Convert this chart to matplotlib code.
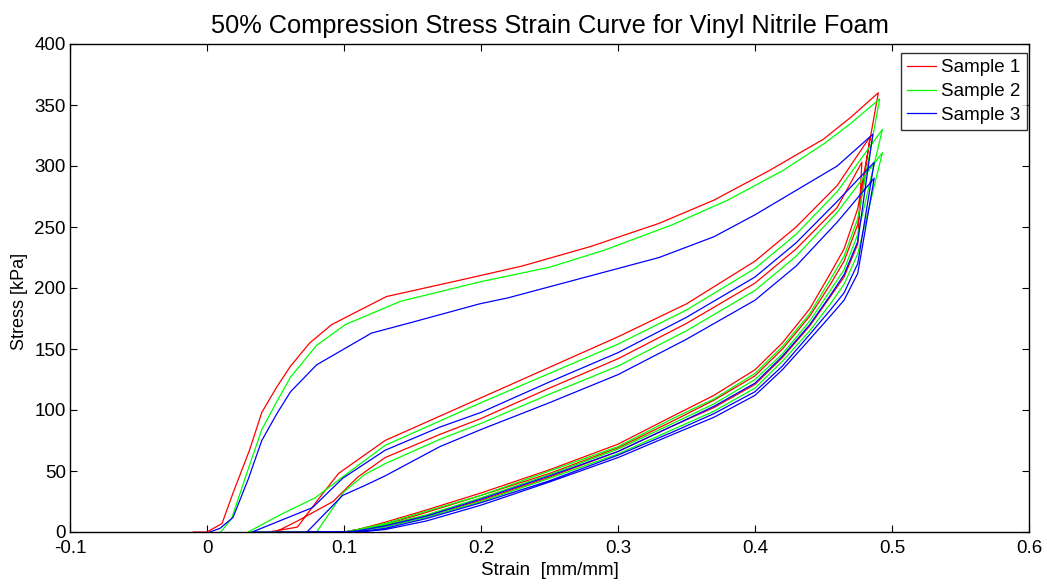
import matplotlib
matplotlib.use("Agg")
import matplotlib.pyplot as plt

plt.rcParams['font.family'] = ['Liberation Sans', 'DejaVu Sans']

# ---------------- data ----------------
labels = ["Sample 1", "Sample 2", "Sample 3"]
colors = ["#ff0000", "#00ff00", "#0000ff"]

# first loading (upper curves)
r_load1_x = [-0.01, 0, 0.011, 0.019, 0.031, 0.040, 0.051, 0.061, 0.075, 0.091, 0.131, 0.187, 0.23, 0.28, 0.33, 0.37, 0.41, 0.45, 0.47, 0.49]
r_load1_y = [0, 0, 7, 32, 67, 98, 119, 136, 155, 170, 193, 207, 218, 234, 253, 272, 296, 322, 340, 360]
g_load1_x = [0.01, 0.018, 0.029, 0.040, 0.051, 0.061, 0.080, 0.101, 0.141, 0.199, 0.25, 0.29, 0.34, 0.38, 0.42, 0.45, 0.47, 0.491]
g_load1_y = [0, 11, 48, 84, 107, 127, 153, 170, 189, 205, 217, 231, 252, 272, 296, 318, 335, 355]
b_load1_x = [0.002, 0.0095, 0.019, 0.030, 0.040, 0.051, 0.061, 0.080, 0.12, 0.15, 0.199, 0.22, 0.28, 0.33, 0.37, 0.40, 0.43, 0.46, 0.486]
b_load1_y = [0, 3, 12, 43, 75, 97, 115, 137, 163, 172, 187, 192, 210, 225, 242, 260, 280, 300, 326]

# reloading (middle curves), shared strain grid after individual starts
reload_grid = [0.13, 0.17, 0.20, 0.25, 0.30, 0.35, 0.40, 0.43, 0.46]
r_load2_start_x = [0.045, 0.066, 0.080, 0.096]
r_load2_start_y = [0, 4, 25, 48]
r_load2_y = [75, 95, 110, 135, 160, 187, 222, 250, 284]
r_load2_peak = (0.484, 324)
g_load2_start_x = [0.030, 0.055, 0.079, 0.100]
g_load2_start_y = [0, 15, 28, 46]
g_load2_y = [71, 91, 106, 130, 154, 182, 216, 244, 279]
g_load2_peak = (0.493, 330)
b_load2_start_x = [0.033, 0.055, 0.077, 0.099]
b_load2_start_y = [0, 10, 20, 44]
b_load2_y = [67, 86, 98, 123, 147, 176, 209, 237, 271]
b_load2_peak = (0.487, 303)

r_load3_start_x = [0.050, 0.066, 0.092, 0.110]
r_load3_start_y = [0, 9, 25, 45]
r_load3_y = [61, 80, 93, 118, 142, 171, 204, 232, 266]
r_load3_peak = (0.478, 303)
g_load3_start_x = [0.080, 0.100, 0.115]
g_load3_start_y = [0, 33, 47]
g_load3_y = [56, 76, 89, 113, 136, 165, 198, 226, 262]
g_load3_peak = (0.493, 311)
b_load3_start_x = [0.073, 0.099, 0.115]
b_load3_start_y = [0, 30, 38]
b_load3_y = [46, 70, 84, 106, 129, 158, 190, 218, 254]
b_load3_peak = (0.487, 290)

# unloading (bottom curves), shared strain grid
unload_grid = [0.475, 0.465, 0.455, 0.44, 0.42, 0.40, 0.37, 0.34, 0.30, 0.25, 0.20, 0.16, 0.13, 0.11, 0.10]
r_unload1_y = [265, 232, 212, 183, 155, 133, 112, 95, 72, 51, 32, 18, 8, 2, 0]
g_unload1_y = [257, 226, 207, 179, 152, 130, 109, 93, 70, 50, 30, 17, 7, 2, 0]
r_unload2_y = [252, 222, 203, 177, 150, 128, 108, 91, 69, 48, 30, 16, 6, 2, 0]
g_unload2_y = [244, 215, 198, 173, 146, 125, 105, 89, 68, 47, 28, 14, 6, 1, 0]
b_unload1_y = [238, 211, 194, 170, 144, 122, 103, 87, 66, 46, 27, 13, 5, 1, 0]
r_unload3_y = [236, 209, 193, 169, 143, 121, 102, 87, 66, 45, 26, 13, 5, 1, 0]
g_unload3_y = [228, 203, 187, 165, 140, 118, 99, 84, 64, 44, 25, 12, 4, 1, 0]
b_unload2_y = [220, 196, 182, 162, 136, 115, 97, 82, 63, 42, 24, 11, 3, 0, 0]
b_unload3_y = [212, 190, 177, 158, 133, 112, 94, 80, 61, 41, 22, 9, 2, 0, 0]

x_ticks = [-0.1, 0, 0.1, 0.2, 0.3, 0.4, 0.5, 0.6]
y_ticks = [0, 50, 100, 150, 200, 250, 300, 350, 400]


def build_path(load1_x, load1_y, un1, l2sx, l2sy, l2y, l2pk, un2, l3sx, l3sy, l3y, l3pk, un3):
    xs, ys = list(load1_x), list(load1_y)
    xs += unload_grid; ys += un1
    xs += l2sx + reload_grid + [l2pk[0]]; ys += l2sy + l2y + [l2pk[1]]
    xs += unload_grid; ys += un2
    xs += l3sx + reload_grid + [l3pk[0]]; ys += l3sy + l3y + [l3pk[1]]
    xs += unload_grid; ys += un3
    return xs, ys


paths = [
    build_path(r_load1_x, r_load1_y, r_unload1_y, r_load2_start_x, r_load2_start_y, r_load2_y, r_load2_peak,
               r_unload2_y, r_load3_start_x, r_load3_start_y, r_load3_y, r_load3_peak, r_unload3_y),
    build_path(g_load1_x, g_load1_y, g_unload1_y, g_load2_start_x, g_load2_start_y, g_load2_y, g_load2_peak,
               g_unload2_y, g_load3_start_x, g_load3_start_y, g_load3_y, g_load3_peak, g_unload3_y),
    build_path(b_load1_x, b_load1_y, b_unload1_y, b_load2_start_x, b_load2_start_y, b_load2_y, b_load2_peak,
               b_unload2_y, b_load3_start_x, b_load3_start_y, b_load3_y, b_load3_peak, b_unload3_y),
]

# ---------------- plot ----------------
fig = plt.figure(figsize=(10.47, 5.85), dpi=100)
ax = fig.add_axes([70 / 1047, 1 - 532 / 585, (1029 - 70) / 1047, (532 - 44) / 585])

for (xs, ys), c, lab in zip(paths, colors, labels):
    ax.plot(xs, ys, color=c, lw=0.9, label=lab)

ax.set_xlim(-0.1, 0.6)
ax.set_ylim(0, 400)
ax.set_xticks(x_ticks)
ax.set_xticklabels(["%g" % t for t in x_ticks])
ax.set_yticks(y_ticks)
ax.set_yticklabels([str(t) for t in y_ticks])
ax.tick_params(direction='in', top=True, right=True, length=5, width=0.8, labelsize=13.5)
ax.tick_params(axis='x', pad=6)
ax.tick_params(axis='y', pad=3)
for s in ax.spines.values():
    s.set_linewidth(1.0)

ax.set_title("50% Compression Stress Strain Curve for Vinyl Nitrile Foam", fontsize=18.3, pad=8)
ax.set_xlabel("Strain  [mm/mm]", fontsize=13.5, labelpad=0)
ax.xaxis.set_label_coords(0.5, -0.078, transform=ax.transAxes)
ax.xaxis.label.set_verticalalignment('center')
ax.set_ylabel("Stress [kPa]", fontsize=13)
ax.yaxis.set_label_coords(-0.044, 0.473)

leg = ax.legend(loc='upper right', bbox_to_anchor=(0.998, 0.982), fontsize=13.5, frameon=True,
                fancybox=False, edgecolor='black', handlelength=1.55, handletextpad=0.25,
                borderpad=0.35, labelspacing=0.35, borderaxespad=0)
leg.get_frame().set_linewidth(1.0)

fig.savefig("out.png", dpi=100)
